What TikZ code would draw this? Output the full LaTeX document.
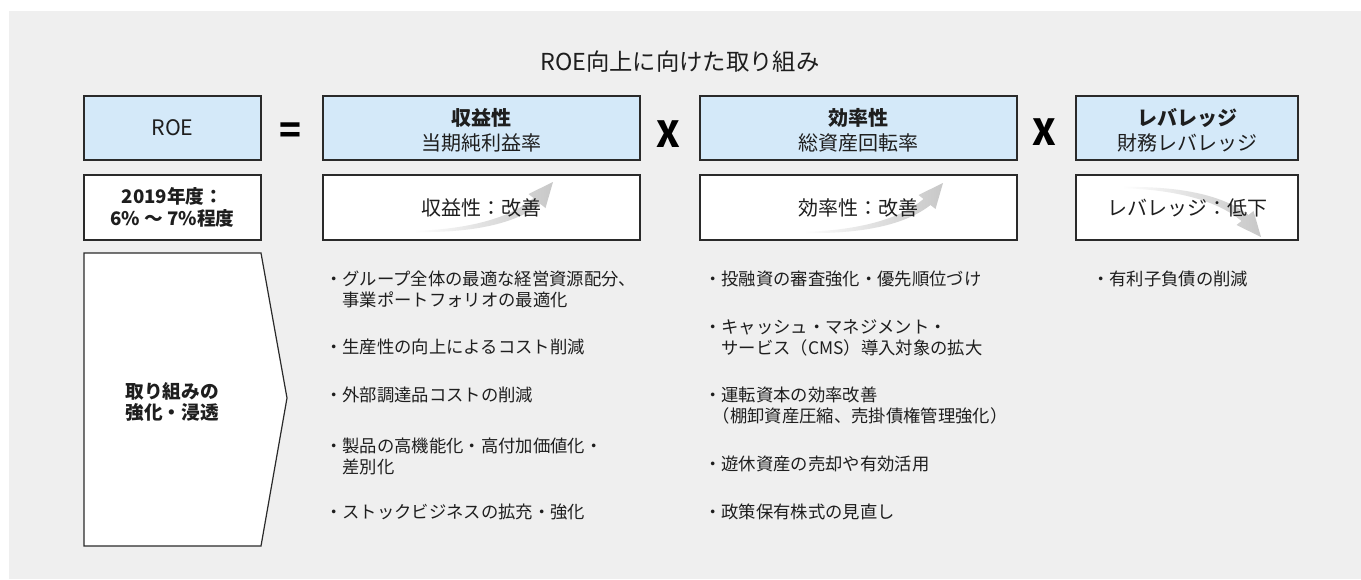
\documentclass[tikz,border=0pt]{standalone}
\usepackage{fontspec}
\setmainfont{Noto Sans CJK JP}
\definecolor{bgray}{HTML}{EFEFEF}
\definecolor{lblue}{HTML}{D4E9F9}
\definecolor{agray}{HTML}{C8C8C8}
\definecolor{edge}{HTML}{2A2A2A}
\definecolor{ink}{HTML}{1E1E1E}
\begin{document}
\begin{tikzpicture}[x=0.75pt,y=-0.75pt,
  bluebox/.style={draw=edge, line width=0.9pt, fill=lblue, inner sep=0pt, outer sep=0pt, minimum height=64*0.75pt},
  whitebox/.style={draw=edge, line width=0.9pt, fill=white, inner sep=0pt, outer sep=0pt, minimum height=65*0.75pt},
  boxtext/.style={text=ink, align=center, inner sep=0pt, font=\fontsize{15}{18.75}\selectfont},
  boldtext/.style={text=ink, align=center, inner sep=0pt, font=\fontsize{14}{17}\selectfont\bfseries},
  item/.style={text=ink, align=left, anchor=west, inner sep=0pt, font=\fontsize{13}{15.75}\selectfont},
  op/.style={text=black, inner sep=0pt, font=\fontsize{27}{27}\selectfont\bfseries},
  trend/.pic={
    \shade[left color=white, right color=agray, middle color=agray!55]
      (-139,49) .. controls (-83,47) and (-43,36) .. (-19.5,16) -- (-24.5,12) -- (0,0)
      -- (-7.5,26) -- (-12.5,22) .. controls (-38,42) and (-81,51) .. (-139,50) -- cycle;
  }
]
\useasboundingbox (0,0) rectangle (1361,579);
\fill[bgray] (9,11) rectangle (1361,579);

% title
\node[text=ink, inner sep=0pt, font=\fontsize{17.5}{17.5}\selectfont] (title) at (680,62) {ROE向上に向けた取り組み};

% top row
\node[bluebox, minimum width=177*0.75pt] (roe) at (172.5,128) {};
\node[bluebox, minimum width=317*0.75pt] (prof) at (481.5,128) {};
\node[bluebox, minimum width=317*0.75pt] (eff) at (858.5,128) {};
\node[bluebox, minimum width=222*0.75pt] (lev) at (1187,128) {};
\node[boxtext, font=\fontsize{16}{18.75}\selectfont] (roet) at (roe.center) {ROE};
\node[boxtext] (proft) at (481.5,130.5) {\textbf{収益性}\\当期純利益率};
\node[boxtext] (efft) at (858.5,130.5) {\textbf{効率性}\\総資産回転率};
\node[boxtext] (levt) at (1187,130.5) {\textbf{レバレッジ}\\財務レバレッジ};
\node[op] (eq) at (290,133) {=};
\node[op] (x1) at (668,134.5) {X};
\node[op] (x2) at (1044,132.5) {X};

% second row
\node[whitebox, minimum width=177*0.75pt] (roe2) at (172.5,207.5) {};
\node[whitebox, minimum width=317*0.75pt] (prof2) at (481.5,207.5) {};
\node[whitebox, minimum width=317*0.75pt] (eff2) at (858.5,207.5) {};
\node[whitebox, minimum width=222*0.75pt] (lev2) at (1187,207.5) {};
\pic at (553,182) {trend};
\pic at (943,183) {trend};
\pic[yscale=-1] at (1261,237) {trend};
\node[boldtext] (roe2t) at (roe2.center) {2019年度：\\6\% ～ 7\%程度};
\node[boxtext] (prof2t) at (prof2.center) {収益性：改善};
\node[boxtext] (eff2t) at (eff2.center) {効率性：改善};
\node[boxtext] (lev2t) at (lev2.center) {レバレッジ：低下};

% chevron
\draw[draw=edge, line width=0.9pt, fill=white] (84,253) -- (261,253) -- (287,398) -- (261,546) -- (84,546) -- cycle;
\node[boldtext, font=\fontsize{14}{15.75}\selectfont\bfseries] (push) at (172,402) {取り組みの\\強化・浸透};

% items: profitability
\node[item] (p1) at (325,289.5) {・グループ全体の最適な経営資源配分、\\\phantom{・}事業ポートフォリオの最適化};
\node[item] (p2) at (325,347) {・生産性の向上によるコスト削減};
\node[item] (p3) at (325,395) {・外部調達品コストの削減};
\node[item] (p4) at (325,456) {・製品の高機能化・高付加価値化・\\\phantom{・}差別化};
\node[item] (p5) at (325,512) {・ストックビジネスの拡充・強化};

% items: efficiency
\node[item] (e1) at (704,279) {・投融資の審査強化・優先順位づけ};
\node[item] (e2) at (704,337.5) {・キャッシュ・マネジメント・\\\phantom{・}サービス（CMS）導入対象の拡大};
\node[item] (e3) at (704,405.5) {・運転資本の効率改善\\\hspace{0.5em}（棚卸資産圧縮、売掛債権管理強化）};
\node[item] (e4) at (704,464) {・遊休資産の売却や有効活用};
\node[item] (e5) at (704,512) {・政策保有株式の見直し};

% items: leverage
\node[item] (l1) at (1092,279) {・有利子負債の削減};
\end{tikzpicture}
\end{document}
